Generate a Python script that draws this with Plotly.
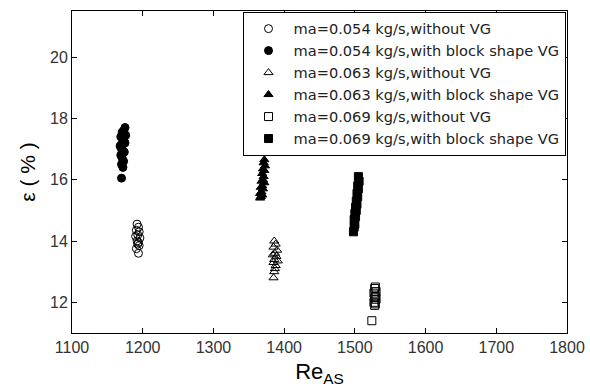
import plotly.graph_objects as go

# ma=0.054 kg/s
re_054_none = [1192, 1194, 1191, 1195, 1193, 1190, 1196, 1192, 1194, 1193, 1195, 1191, 1194]
eps_054_none = [14.55, 14.45, 14.35, 14.3, 14.2, 14.15, 14.1, 14.0, 13.95, 13.9, 13.85, 13.75, 13.6]
re_054_vg = [1175, 1173, 1171, 1174, 1176, 1169, 1171, 1173, 1175, 1170, 1168, 1170, 1172, 1174, 1169, 1171, 1173, 1170, 1172, 1170]
eps_054_vg = [17.7, 17.6, 17.55, 17.5, 17.45, 17.4, 17.35, 17.3, 17.2, 17.15, 17.1, 17.0, 16.95, 16.9, 16.8, 16.7, 16.6, 16.5, 16.4, 16.05]

# ma=0.063 kg/s
re_063_none = [1386, 1388, 1385, 1390, 1387, 1384, 1389, 1386, 1391, 1385, 1388, 1387, 1386, 1385]
eps_063_none = [14.0, 13.9, 13.8, 13.7, 13.6, 13.55, 13.5, 13.4, 13.35, 13.3, 13.2, 13.1, 13.0, 12.8]
re_063_vg = [1372, 1371, 1373, 1370, 1372, 1369, 1371, 1370, 1368, 1372, 1369, 1367, 1370, 1368, 1366, 1369, 1367, 1366]
eps_063_vg = [16.65, 16.55, 16.45, 16.35, 16.3, 16.2, 16.1, 16.0, 15.95, 15.9, 15.8, 15.75, 15.7, 15.6, 15.55, 15.5, 15.45, 15.4]

# ma=0.069 kg/s
re_069_none = [1529, 1528, 1530, 1527, 1529, 1528, 1530, 1527, 1529, 1528, 1524]
eps_069_none = [12.5, 12.45, 12.35, 12.3, 12.2, 12.15, 12.1, 12.0, 11.95, 11.9, 11.4]
re_069_vg = [1505, 1506, 1504, 1505, 1503, 1504, 1502, 1503, 1501, 1502, 1500, 1501, 1499, 1500, 1499, 1498]
eps_069_vg = [16.1, 15.95, 15.8, 15.7, 15.55, 15.45, 15.3, 15.2, 15.1, 15.0, 14.9, 14.8, 14.7, 14.55, 14.45, 14.3]

series = [
    ("ma=0.054 kg/s,without VG", re_054_none, eps_054_none, "circle-open"),
    ("ma=0.054 kg/s,with block shape VG", re_054_vg, eps_054_vg, "circle"),
    ("ma=0.063 kg/s,without VG", re_063_none, eps_063_none, "triangle-up-open"),
    ("ma=0.063 kg/s,with block shape VG", re_063_vg, eps_063_vg, "triangle-up"),
    ("ma=0.069 kg/s,without VG", re_069_none, eps_069_none, "square-open"),
    ("ma=0.069 kg/s,with block shape VG", re_069_vg, eps_069_vg, "square"),
]

fig = go.Figure()
for name, xs, ys, sym in series:
    fig.add_trace(go.Scatter(
        x=xs, y=ys, mode="markers", name=name,
        marker=dict(symbol=sym, size=8, color="black", line=dict(color="black", width=1)),
    ))

axis_common = dict(
    showline=True, linecolor="black", linewidth=1, mirror="ticks",
    ticks="inside", ticklen=5, tickcolor="black", showgrid=False, zeroline=False,
    automargin=False,
    tickfont=dict(family="Liberation Sans, Arial, sans-serif", size=16, color="#333"),
)

fig.update_layout(
    width=590, height=388,
    margin=dict(l=72, r=23, t=11, b=55),
    paper_bgcolor="white", plot_bgcolor="white",
    font=dict(family="Liberation Sans, Arial, sans-serif", color="black"),
    xaxis=dict(range=[1100, 1800], dtick=100, tick0=1100,
               title=dict(text="Re<sub>AS</sub>", font=dict(size=22), standoff=8), **axis_common),
    yaxis=dict(range=[11, 21.5], dtick=2, tick0=12,
               title=dict(text="ε ( % )", font=dict(size=21), standoff=8), **axis_common),
    legend=dict(x=0.997, y=0.998, xanchor="right", yanchor="top",
                bordercolor="black", borderwidth=1, bgcolor="white",
                font=dict(family="DejaVu Sans, sans-serif", size=14.6, color="#222"),
                itemwidth=40),
    showlegend=True,
)

fig.write_html("out.html")
